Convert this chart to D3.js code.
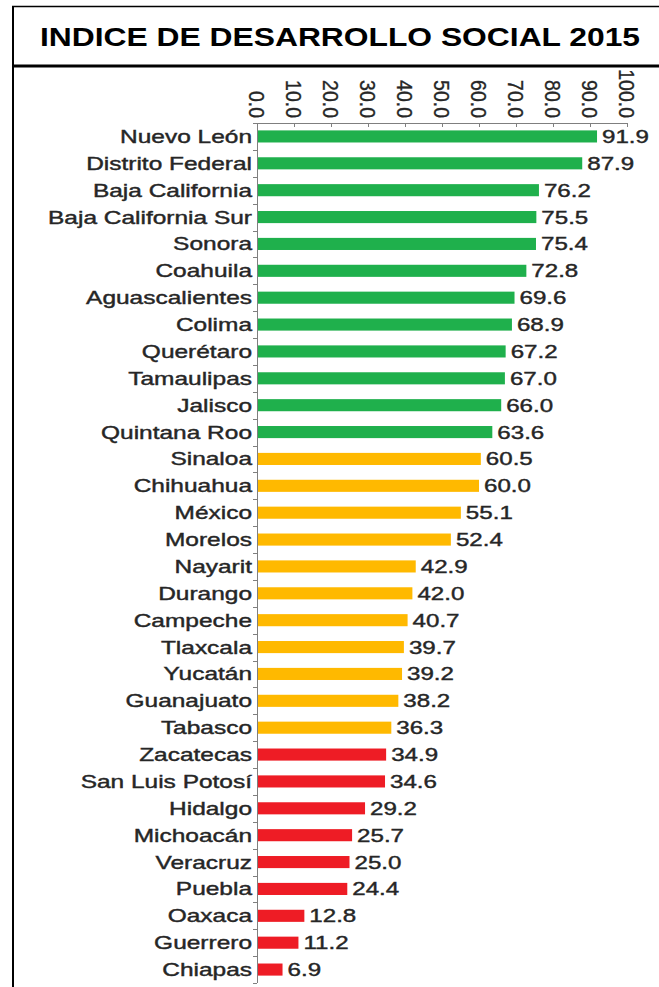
<!DOCTYPE html>
<html><head><meta charset="utf-8">
<script src="https://cdn.jsdelivr.net/npm/d3@7"></script>
<style>html,body{margin:0;padding:0;background:#fff;}svg{display:block;}</style>
</head><body>
<script>
const states = ["Nuevo León","Distrito Federal","Baja California","Baja California Sur","Sonora","Coahuila","Aguascalientes","Colima","Querétaro","Tamaulipas","Jalisco","Quintana Roo","Sinaloa","Chihuahua","México","Morelos","Nayarit","Durango","Campeche","Tlaxcala","Yucatán","Guanajuato","Tabasco","Zacatecas","San Luis Potosí","Hidalgo","Michoacán","Veracruz","Puebla","Oaxaca","Guerrero","Chiapas"];
const values = [91.9,87.9,76.2,75.5,75.4,72.8,69.6,68.9,67.2,67.0,66.0,63.6,60.5,60.0,55.1,52.4,42.9,42.0,40.7,39.7,39.2,38.2,36.3,34.9,34.6,29.2,25.7,25.0,24.4,12.8,11.2,6.9];
const levels = ["alto","alto","alto","alto","alto","alto","alto","alto","alto","alto","alto","alto","medio","medio","medio","medio","medio","medio","medio","medio","medio","medio","medio","bajo","bajo","bajo","bajo","bajo","bajo","bajo","bajo","bajo"];
const levelNames = ["alto","medio","bajo"];
const levelColors = ["#1fb04c","#ffb900","#ee1c25"];
const xTicks = [0,10,20,30,40,50,60,70,80,90,100];
const title = "INDICE DE DESARROLLO SOCIAL 2015";

const W = 659, H = 987;
const svg = d3.select("body").append("svg").attr("width", W).attr("height", H);
const font = "'Liberation Sans', Arial, sans-serif";
const textColor = "#262626";
const axisColor = "#7f7f7f";

// frame
svg.append("line").attr("x1",12).attr("x2",W).attr("y1",6.5).attr("y2",6.5).attr("stroke","#000").attr("stroke-width",1.5);
svg.append("line").attr("x1",13).attr("x2",13).attr("y1",6).attr("y2",H).attr("stroke","#000").attr("stroke-width",2);
svg.append("line").attr("x1",12).attr("x2",W).attr("y1",66).attr("y2",66).attr("stroke","#000").attr("stroke-width",3);

svg.append("text").attr("x",40).attr("y",46)
  .attr("font-family",font).attr("font-weight","bold").attr("font-size",25.5)
  .attr("textLength",600).attr("lengthAdjust","spacingAndGlyphs")
  .attr("fill","#000").text(title);

const x = d3.scaleLinear().domain([0,100]).range([257,627]);
const y = d3.scaleBand().domain(states).range([123,983]).paddingInner(0.55).paddingOuter(0.275);
const color = d3.scaleOrdinal().domain(levelNames).range(levelColors);

const data = states.map((s,i)=>({state:s, value:values[i], level:levels[i]}));

// bars
svg.append("g").selectAll("rect").data(data).join("rect")
  .attr("x", x(0)).attr("y", d=>y(d.state))
  .attr("width", d=>x(d.value)-x(0)).attr("height", y.bandwidth())
  .attr("fill", d=>color(d.level));

// x axis (top)
const xg = svg.append("g");
xg.append("line").attr("x1",x(0)).attr("x2",x(100)).attr("y1",123.5).attr("y2",123.5).attr("stroke",axisColor);
xg.selectAll("line.t").data(xTicks).join("line").attr("class","t")
  .attr("x1",d=>Math.round(x(d))+0.5).attr("x2",d=>Math.round(x(d))+0.5)
  .attr("y1",123).attr("y2",127).attr("stroke",axisColor);
xg.selectAll("g.tl").data(xTicks).join("g").attr("class","tl")
  .attr("transform",d=>`translate(${x(d)},118) scale(1.1,1)`)
  .append("text").attr("transform","rotate(90)")
  .attr("text-anchor","end").attr("dy","0.35em")
  .attr("font-family",font).attr("font-size",19.5).attr("fill",textColor)
  .attr("stroke",textColor).attr("stroke-width",0.3)
  .text(d=>d3.format(".1f")(d));

// y axis
const yg = svg.append("g");
yg.append("line").attr("x1",257.5).attr("x2",257.5).attr("y1",123).attr("y2",983).attr("stroke",axisColor);
const bounds = d3.range(states.length+1).map(i=>123 + i*y.step());
yg.selectAll("line.t").data(bounds).join("line").attr("class","t")
  .attr("x1",253).attr("x2",257).attr("y1",d=>Math.round(d)+0.5).attr("y2",d=>Math.round(d)+0.5).attr("stroke",axisColor);

// category labels
svg.append("g").selectAll("g").data(data).join("g")
  .attr("transform", d=>`translate(252,${y(d.state)+y.bandwidth()/2}) scale(1.36,1)`)
  .append("text").attr("text-anchor","end").attr("dy","0.36em")
  .attr("font-family",font).attr("font-size",18).attr("fill",textColor)
  .attr("stroke",textColor).attr("stroke-width",0.4)
  .text(d=>d.state);

// value labels
svg.append("g").selectAll("g").data(data).join("g")
  .attr("transform", d=>`translate(${x(d.value)+5},${y(d.state)+y.bandwidth()/2}) scale(1.34,1)`)
  .append("text").attr("dy","0.36em")
  .attr("font-family",font).attr("font-size",18).attr("fill",textColor)
  .attr("stroke",textColor).attr("stroke-width",0.4)
  .text(d=>d3.format(".1f")(d.value));
</script>
</body></html>
